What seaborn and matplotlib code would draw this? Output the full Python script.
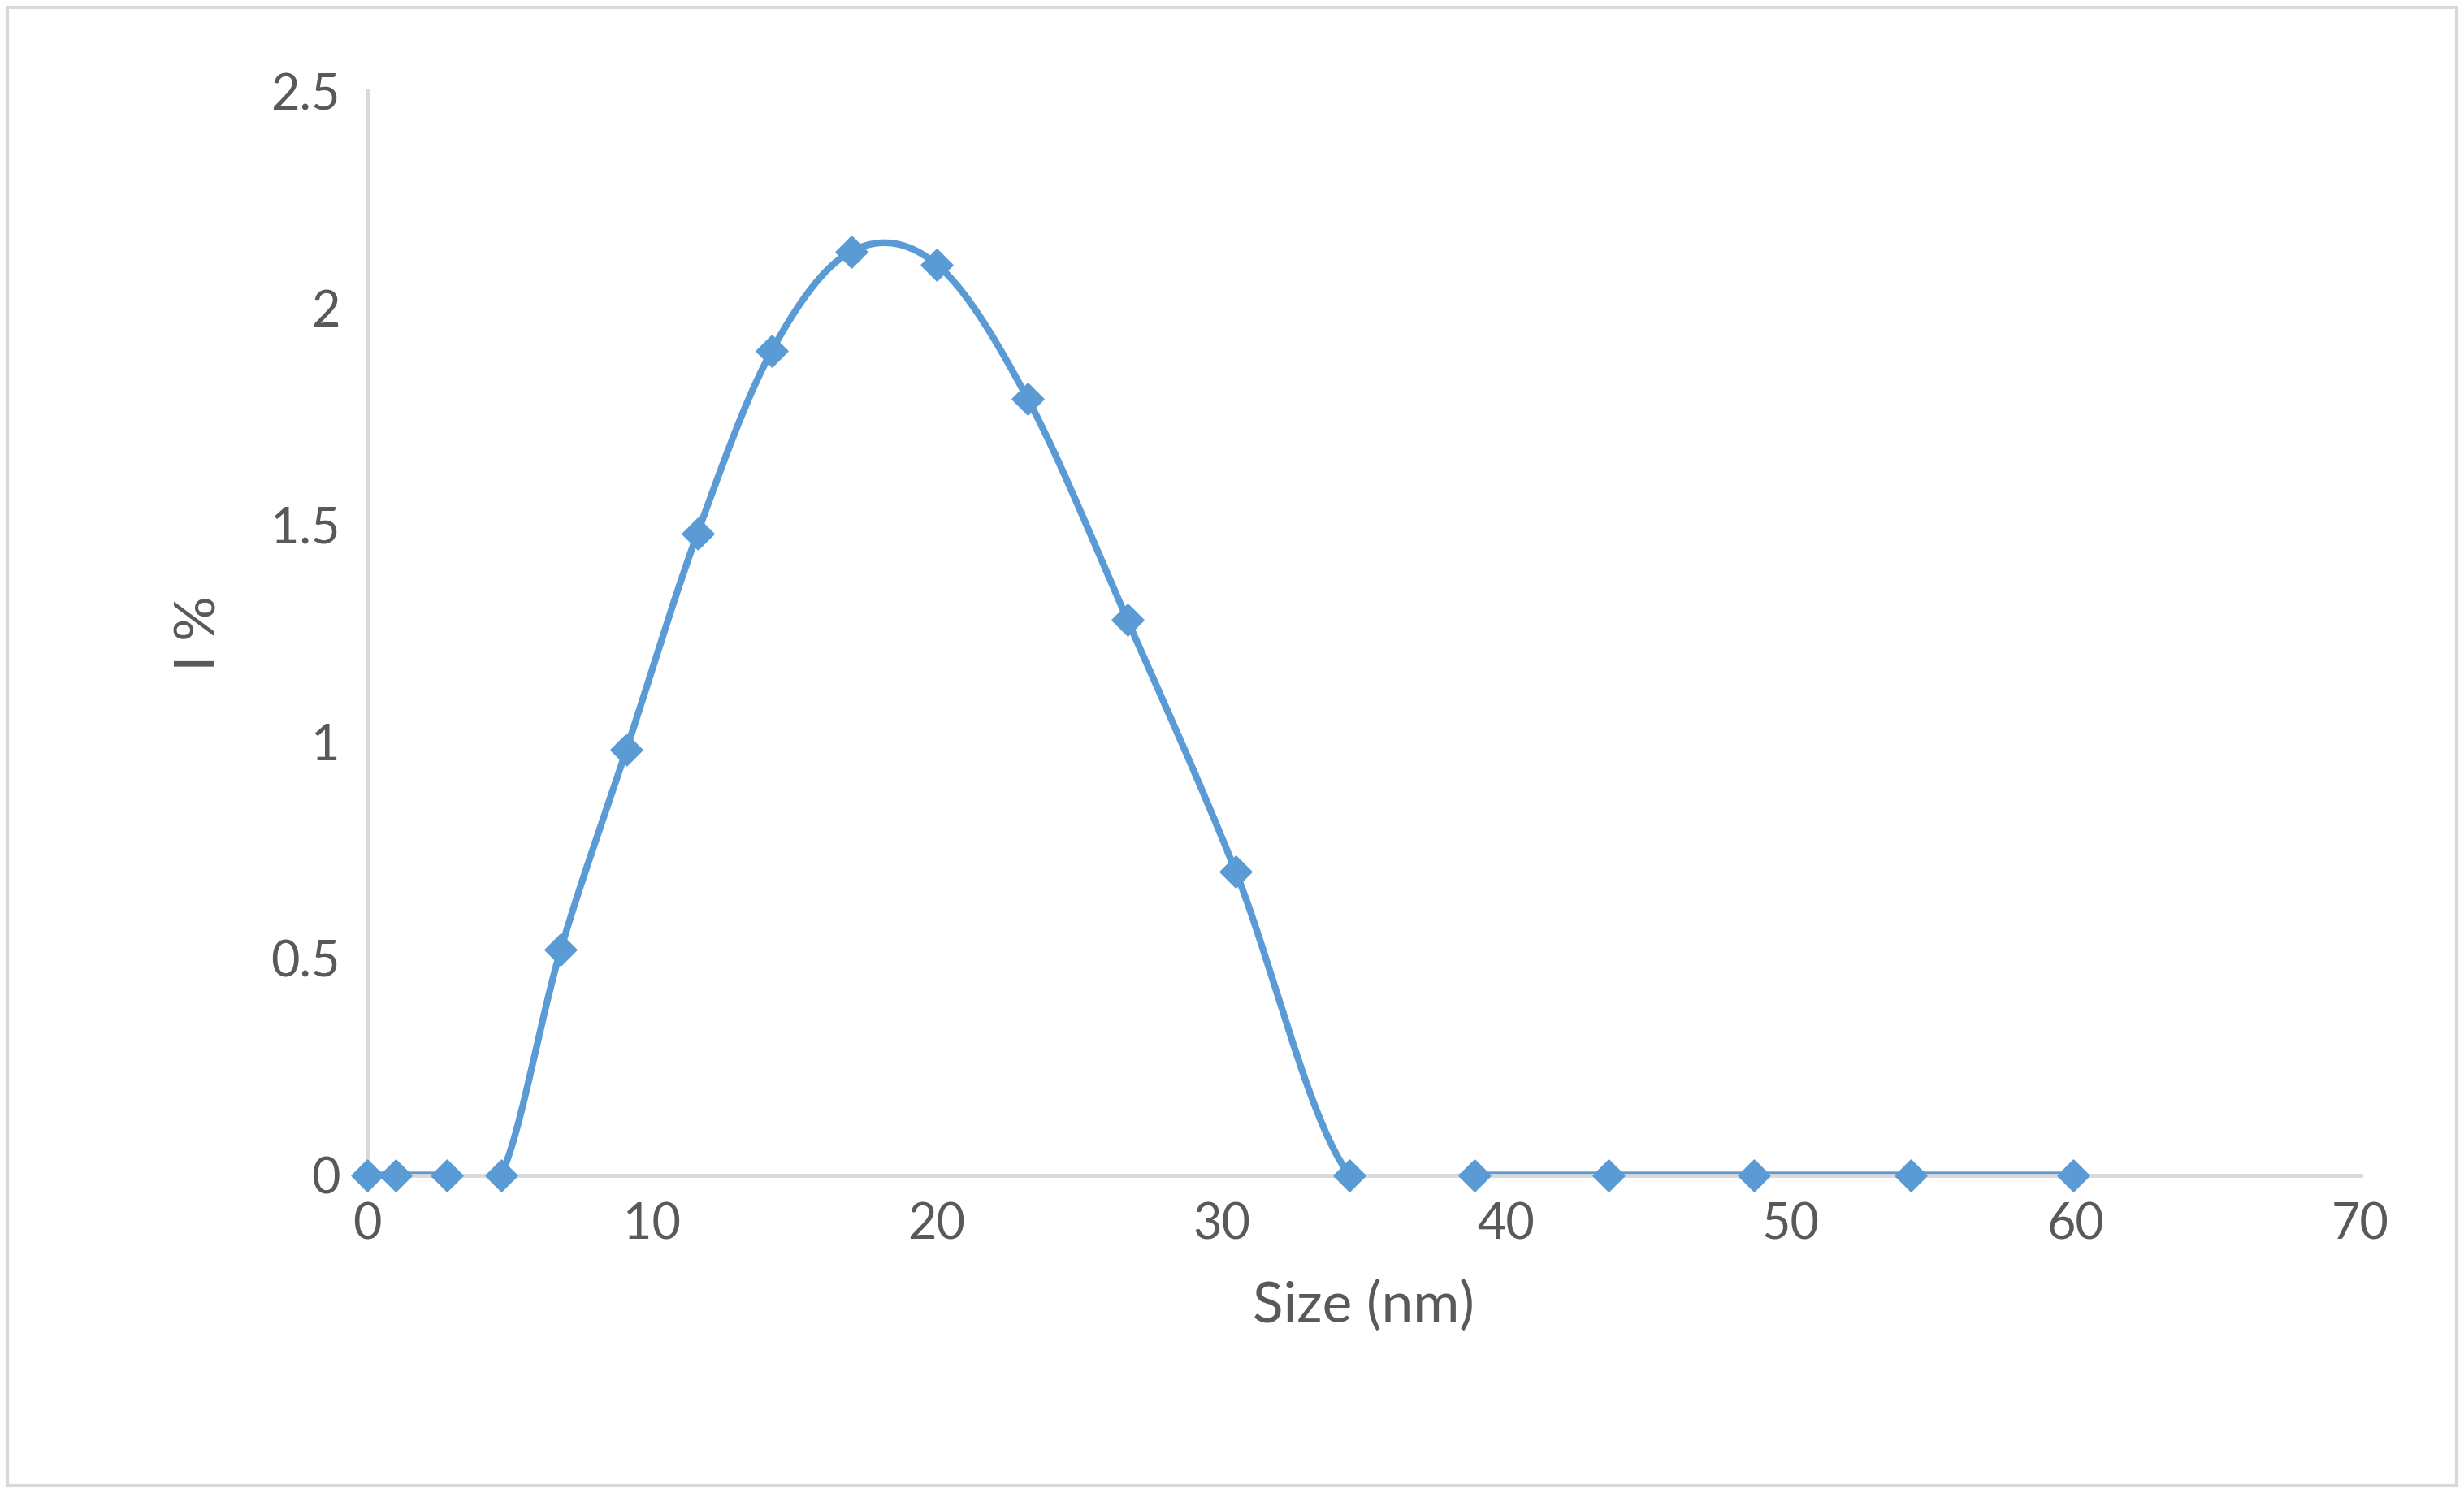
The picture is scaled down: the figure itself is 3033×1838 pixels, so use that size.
import numpy as np
import pandas as pd
import matplotlib.pyplot as plt
import seaborn as sns

size_nm = [0, 1.0, 2.8, 4.7, 6.8, 9.1, 11.6, 14.2, 17.0, 20.0, 23.2, 26.7, 30.5, 34.5,
           38.9, 43.6, 48.7, 54.2, 59.9]
intensity = [0, 0, 0, 0, 0.52, 0.98, 1.48, 1.9, 2.13, 2.1, 1.79, 1.28, 0.7, 0,
             0, 0, 0, 0, 0]

df = pd.DataFrame({"size": size_nm, "I": intensity})


def catmull_rom(x, y, n=30):
    # smoothed line like Excel's "smoothed line" option
    x = np.asarray(x, float)
    y = np.asarray(y, float)
    px = np.concatenate([[x[0]], x, [x[-1]]])
    py = np.concatenate([[y[0]], y, [y[-1]]])
    xs, ys = [], []
    t = np.linspace(0, 1, n)
    for i in range(1, len(px) - 2):
        p0, p1, p2, p3 = [np.array([px[j], py[j]]) for j in (i - 1, i, i + 1, i + 2)]
        c1 = p1 + (p2 - p0) / 6
        c2 = p2 - (p3 - p1) / 6
        pts = ((1 - t) ** 3)[:, None] * p1 + (3 * (1 - t) ** 2 * t)[:, None] * c1 \
            + (3 * (1 - t) * t ** 2)[:, None] * c2 + (t ** 3)[:, None] * p2
        xs.extend(pts[:, 0])
        ys.extend(pts[:, 1])
    return np.array(xs), np.array(ys)


sns.set_style("white")
plt.rcParams['font.family'] = ['Lato', 'DejaVu Sans']
blue = "#5B9BD5"
grey = "#595959"

fig = plt.figure(figsize=(30.33, 18.38), dpi=100)
ax = fig.add_axes([0.149, 0.213, 0.809, 0.726])

sx, sy = catmull_rom(size_nm, intensity)
ax.plot(sx, sy, color=blue, lw=6, zorder=2)
sns.scatterplot(data=df, x="size", y="I", marker="D", s=380, color=blue,
                edgecolor=blue, ax=ax, zorder=3, clip_on=False)

ax.set_xlim(0, 70)
ax.set_ylim(0, 2.5)
ax.set_xticks(range(0, 71, 10))
ax.set_yticks([0, 0.5, 1, 1.5, 2, 2.5])
ax.set_yticklabels(["0", "0.5", "1", "1.5", "2", "2.5"])
ax.set_xlabel("Size (nm)", fontsize=50, color=grey, labelpad=28)
ax.set_ylabel("I %", fontsize=50, color=grey, labelpad=40)
ax.tick_params(labelsize=44, colors=grey, length=10, width=2.5, color="#d9d9d9", pad=14)
for s in ["top", "right"]:
    ax.spines[s].set_visible(False)
for s in ["left", "bottom"]:
    ax.spines[s].set_color("#d9d9d9")
    ax.spines[s].set_linewidth(3.5)

fig.patches.append(plt.Rectangle((0.003, 0.005), 0.994, 0.99, transform=fig.transFigure,
                                 fill=False, edgecolor="#d9d9d9", lw=3))
fig.savefig("out.png", dpi=100)
